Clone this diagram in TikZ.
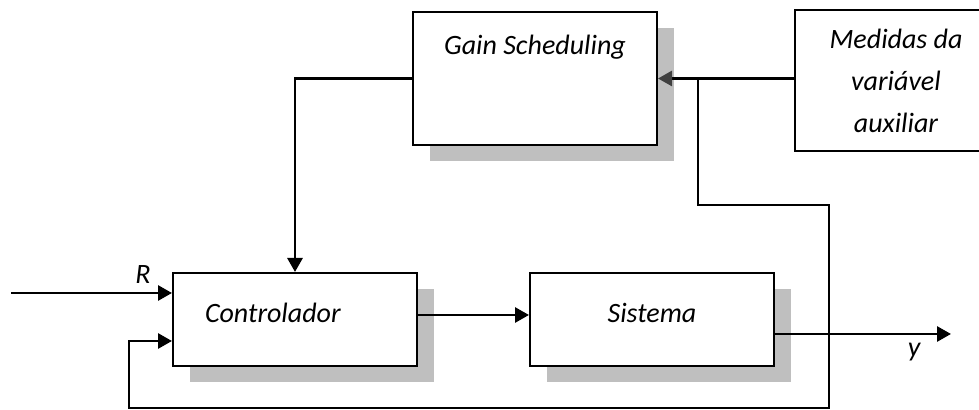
\documentclass[tikz,border=0pt]{standalone}
\usepackage{fontspec}
\setmainfont{Carlito}
\usetikzlibrary{positioning, shadows, arrows.meta}
\tikzstyle{wire} = [line width=1.4pt]
\tikzstyle{arrow} = [line width=1.4pt,-{Triangle[length=7pt,width=7.5pt]}]

\begin{document}
\begin{tikzpicture}[x=1pt,y=1pt,
blocknode/.style={rectangle, draw=black, line width=1pt, fill=white, font=\fontsize{14}{21}\selectfont\itshape, minimum width=122pt, minimum height=46.5pt},
shadednode/.style={blocknode, drop shadow={shadow xshift=8.5pt, shadow yshift=-8pt, fill=black!25, opacity=1}}
]
\useasboundingbox (0,0) rectangle (489.5,205);
\node[shadednode, text width=90pt, inner xsep=16pt, align=left, text height=9pt, text depth=5.5pt] (ctrl) at (147.5,45.25) {Controlador};
\node[shadednode, text height=9pt, text depth=5.5pt] (sys) [right=55.5pt of ctrl] {Sistema};
\node[shadednode, minimum height=66.5pt, inner ysep=11.5pt, text height=10pt, text depth=33.5pt] (gain) at (267.5,165.75) {Gain Scheduling};
\node[blocknode, minimum width=101pt, minimum height=70.5pt, align=center] (aux) at (448,164.75) {Medidas da\\variável\\auxiliar};
\node[font=\fontsize{14}{17}\selectfont\itshape] (rlabel) at (71.5,67.5) {R};
\node[font=\fontsize{14}{17}\selectfont\itshape] (ylabel) at (457,29) {y};

\coordinate (rin) at (5.5,58.5);
\coordinate (yout) at (475.5,38);
\coordinate (bend) at (349,102.5);
\coordinate (fbr) at (414.5,102.5);
\coordinate (fbb) at (414.5,1);
\coordinate (fbl) at (64.5,1);

\draw[arrow] (rin) -- (rin -| ctrl.west);
\draw[arrow] ([yshift=2.25pt]ctrl.east) -- ([yshift=2.25pt]sys.west);
\draw[arrow] (sys.east |- yout) -- (yout);
\draw[wire,-{Triangle[length=7pt,width=7.5pt,color=black!75]}] (aux.west |- gain.east) -- (gain.east);
\draw[arrow] (gain.west) -| (ctrl.north);
\draw[arrow] (bend |- gain.east) -- (bend) -- (fbr) -- (fbb) -- (fbl) |- ([yshift=-10.75pt]ctrl.west);
\end{tikzpicture}
\end{document}
